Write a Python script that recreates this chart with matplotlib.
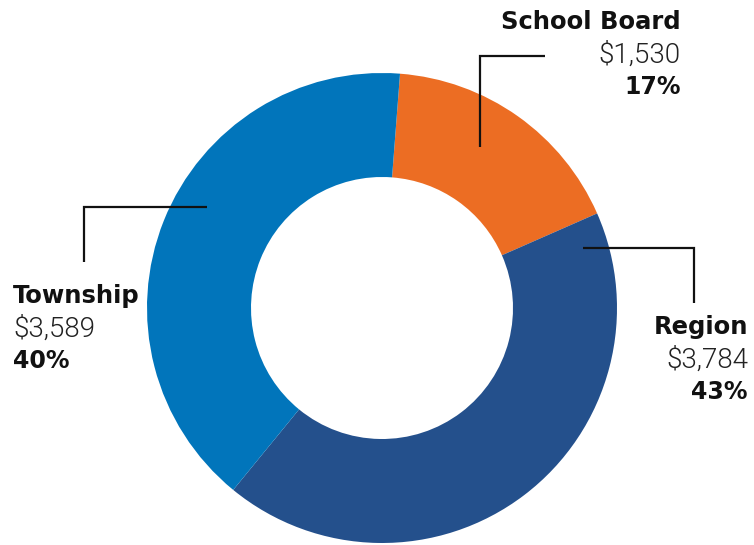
import matplotlib
matplotlib.use("Agg")
import matplotlib.pyplot as plt

# data
labels = ["School Board", "Region", "Township"]
amounts = [1530, 3784, 3589]
amount_text = ["$1,530", "$3,784", "$3,589"]
pct_text = ["17%", "43%", "40%"]
colors = ["#EC6D23", "#24508C", "#0175BB"]

W, H = 754, 545
fig = plt.figure(figsize=(W / 100, H / 100), dpi=100)
ax = fig.add_axes([0, 0, 1, 1])

# pixel coords from the top-left corner -> data coords
def P(x, y):
    return x, H - y

cx, cy = P(382, 308)
r_out, r_in = 235, 131
ax.pie(amounts, colors=colors, startangle=85.6, counterclock=False,
       center=(cx, cy), radius=r_out, frame=True,
       wedgeprops=dict(width=r_out - r_in, linewidth=0))
ax.set_xlim(0, W)
ax.set_ylim(0, H)
ax.set_aspect("equal")
ax.axis("off")

# leader lines (pixel layout)
leaders = [
    [(480, 147), (480, 56), (545, 56)],
    [(583, 248), (694, 248), (694, 303)],
    [(207, 207), (84, 207), (84, 262)],
]
for pts in leaders:
    xs, ys = zip(*[P(x, y) for x, y in pts])
    ax.plot(xs, ys, color="#111111", lw=1.6, solid_capstyle="butt",
            solid_joinstyle="miter")

# label blocks: anchor x, first-line y, alignment
blocks = [(681, 22, "right"), (748, 327, "right"), (13, 296, "left")]
for (x, y, ha), name, amt, pct in zip(blocks, labels, amount_text, pct_text):
    ax.text(*P(x, y), name, ha=ha, va="center", fontsize=17.5,
            fontweight="bold", family="DejaVu Sans", color="#111111")
    ax.text(*P(x, y + 33), amt, ha=ha, va="center", fontsize=20,
            fontweight=300, family="Roboto", color="#222222")
    ax.text(*P(x, y + 65), pct, ha=ha, va="center", fontsize=17,
            fontweight="bold", family="DejaVu Sans", color="#111111")

fig.savefig("out.png", dpi=100)
